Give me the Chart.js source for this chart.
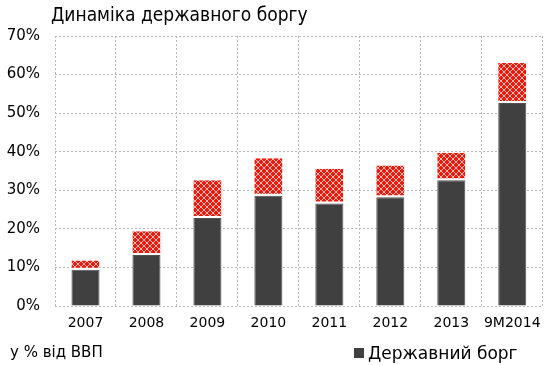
<!DOCTYPE html>
<html>
<head>
<meta charset="utf-8">
<script src="https://cdn.jsdelivr.net/npm/chart.js@4"></script>
<style>
  body { margin: 0; background: #fff; }
  #wrap { position: relative; width: 550px; height: 365px; font-family: "DejaVu Sans", sans-serif; color: #000; }
  #title { position: absolute; left: 51px; top: 3px; font-family: "DejaVu Sans Condensed", "DejaVu Sans", sans-serif; font-size: 19px; white-space: nowrap; }
  #note { position: absolute; left: 10px; top: 343px; font-size: 15px; white-space: nowrap; }
  #legend { position: absolute; left: 354px; top: 343px; font-size: 17px; white-space: nowrap; }
  #legend span.box { display: inline-block; width: 10px; height: 10px; background: #404040; margin-right: 4px; vertical-align: 1px; }
</style>
</head>
<body>
<div id="wrap">
  <canvas id="myChart" width="550" height="365"></canvas>
  <div id="title">Динаміка державного боргу</div>
  <div id="note">у % від ВВП</div>
  <div id="legend"></div>
</div>
<script>
const categories = ['2007', '2008', '2009', '2010', '2011', '2012', '2013', '9M2014'];
const debtValues = [9.4, 13.2, 22.8, 28.6, 26.6, 28.2, 32.6, 52.6];
const extraValues = [2.4, 6.2, 9.8, 9.7, 9.0, 8.2, 7.1, 10.4];
const yTicks = [0, 10, 20, 30, 40, 50, 60, 70];

// red fill with white diamond hatch
function hatch() {
    const c = document.createElement('canvas');
    c.width = 6; c.height = 6;
    const g = c.getContext('2d');
    g.fillStyle = '#ea1a0c';
    g.fillRect(0, 0, 6, 6);
    g.strokeStyle = 'rgba(255,255,255,0.7)';
    g.lineWidth = 1;
    g.beginPath();
    g.moveTo(0, 0); g.lineTo(6, 6);
    g.moveTo(6, 0); g.lineTo(0, 6);
    g.stroke();
    return g.createPattern(c, 'repeat');
}

const font = 'DejaVu Sans';

const data = {
    labels: categories,
    datasets: [{
        label: 'Державний борг',
        data: debtValues,
        backgroundColor: '#404040',
        borderColor: '#505050',
        borderWidth: 1,
        borderSkipped: 'start',
        categoryPercentage: 1,
        barPercentage: 0.46
    }, {
        label: 'extra',
        data: extraValues,
        backgroundColor: hatch(),
        borderColor: '#ffffff',
        borderWidth: {top: 0, left: 0, right: 0, bottom: 2},
        borderSkipped: false,
        categoryPercentage: 1,
        barPercentage: 0.46
    }]
};

const config = {
    type: 'bar',
    data: data,
    options: {
        responsive: false,
        animation: false,
        layout: {
            padding: {top: 36, left: 0, right: 7, bottom: 33}
        },
        scales: {
            x: {
                stacked: true,
                grid: {color: '#b8b8b8', lineWidth: 1, drawTicks: false},
                border: {display: false, dash: [2, 2]},
                ticks: {
                    color: '#000',
                    font: {family: font, size: 14},
                    padding: 9,
                    maxRotation: 0,
                    minRotation: 0,
                    autoSkip: false
                },
                afterFit: function (s) { s.height = 26; }
            },
            y: {
                stacked: true,
                min: 0,
                max: 70,
                afterBuildTicks: function (s) { s.ticks = yTicks.map(v => ({value: v})); },
                grid: {color: '#b8b8b8', lineWidth: 1, drawTicks: false},
                border: {display: false, dash: [2, 2]},
                ticks: {
                    color: '#000',
                    font: {family: font, size: 15},
                    padding: 15,
                    callback: function (v) { return v + '%'; }
                },
                afterFit: function (s) { s.width = 55; }
            }
        },
        plugins: {
            legend: {display: false},
            tooltip: {enabled: false}
        }
    }
};

const myChart = new Chart(document.getElementById('myChart'), config);

// legend from the first dataset
const ds = myChart.data.datasets[0];
document.getElementById('legend').innerHTML =
    '<span class="box"></span>' + ds.label;
</script>
</body>
</html>
